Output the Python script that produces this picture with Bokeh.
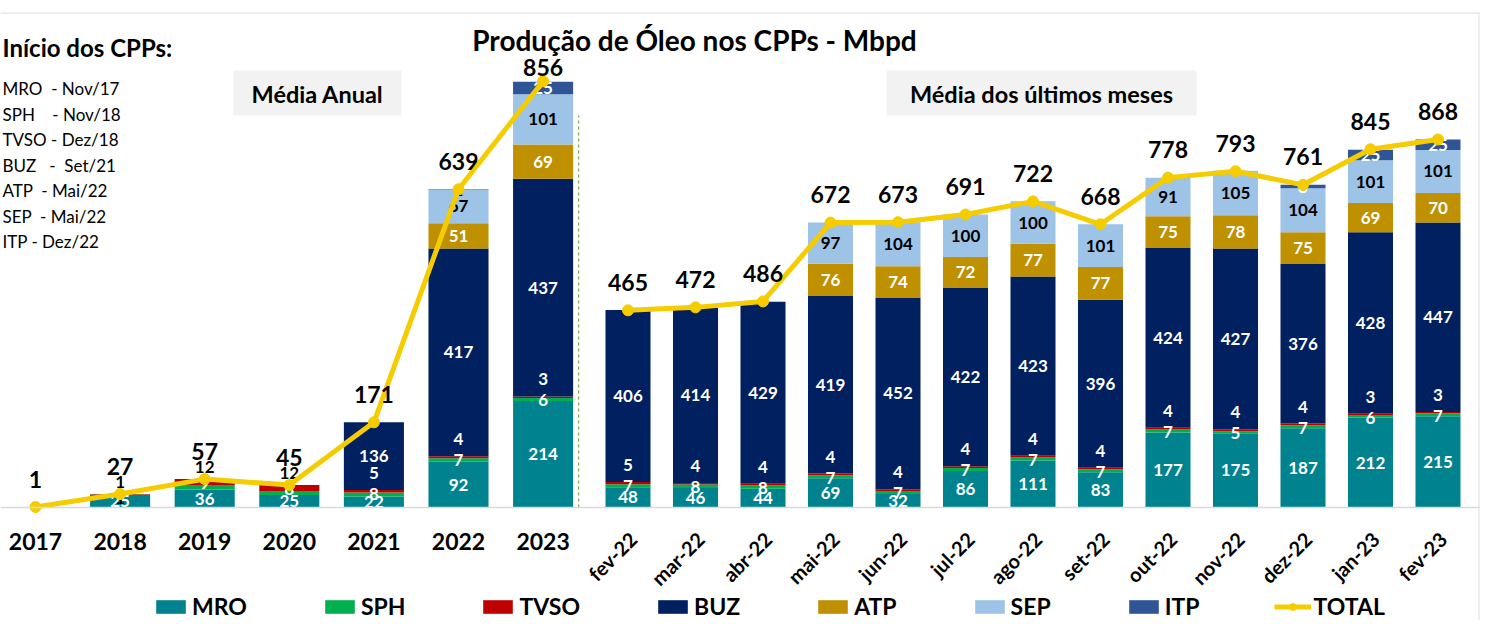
import math
from bokeh.plotting import figure
from bokeh.models import (Range1d, Label, BoxAnnotation, Legend, LegendItem,
                          ColumnDataSource, Span)
from bokeh.core.properties import value
from bokeh.embed import file_html
from bokeh.resources import INLINE

# ---------------- data ----------------
series = ["MRO", "SPH", "TVSO", "BUZ", "ATP", "SEP", "ITP"]

years = ["2017", "2018", "2019", "2020", "2021", "2022", "2023"]
yr_mro = [1, 25, 36, 25, 22, 92, 214]
yr_sph = [0, 1, 9, 8, 8, 7, 6]
yr_tvso = [0, 1, 12, 12, 5, 4, 3]
yr_buz = [0, 0, 0, 0, 136, 417, 437]
yr_atp = [0, 0, 0, 0, 0, 51, 69]
yr_sep = [0, 0, 0, 0, 0, 67, 101]
yr_itp = [0, 0, 0, 0, 0, 1, 25]
yr_total = [1, 27, 57, 45, 171, 639, 856]

months = ["fev-22", "mar-22", "abr-22", "mai-22", "jun-22", "jul-22", "ago-22",
          "set-22", "out-22", "nov-22", "dez-22", "jan-23", "fev-23"]
mo_mro = [48, 46, 44, 69, 32, 86, 111, 83, 177, 175, 187, 212, 215]
mo_sph = [7, 8, 8, 7, 7, 7, 7, 7, 7, 5, 7, 6, 7]
mo_tvso = [5, 4, 4, 4, 4, 4, 4, 4, 4, 4, 4, 3, 3]
mo_buz = [406, 414, 429, 419, 452, 422, 423, 396, 424, 427, 376, 428, 447]
mo_atp = [0, 0, 0, 76, 74, 72, 77, 77, 75, 78, 75, 69, 70]
mo_sep = [0, 0, 0, 97, 104, 100, 100, 101, 91, 105, 104, 101, 101]
mo_itp = [0, 0, 0, 0, 0, 0, 0, 0, 0, 0, 8, 25, 25]
mo_total = [465, 472, 486, 672, 673, 691, 722, 668, 778, 793, 761, 845, 868]

cpp_start = ["MRO  - Nov/17", "SPH    - Nov/18", "TVSO - Dez/18", "BUZ   -  Set/21",
             "ATP  - Mai/22", "SEP  - Mai/22", "ITP - Dez/22"]

title_text = "Produção de Óleo nos CPPs - Mbpd"

# ---------------- styles ----------------
colors = ["#00838F", "#00B050", "#C00000", "#002060", "#BF9000", "#9DC3E6", "#2F5597"]
YEL = "#F5CC00"
FONT = "Lato"

W, H = 1480, 620
BASE = 507               # px from top of canvas to the zero line
ux, xa_px = 84.6, 35     # annual: px per bar slot, first bar centre
um, xm_px = 67.5, 627.5  # monthly
ka, km = 0.498, 0.424    # px per Mbpd (annual / monthly)

p = figure(width=W, height=H, output_backend="svg", toolbar_location=None,
           x_axis_location=None, y_axis_location=None, min_border=0, title=None,
           x_range=Range1d(-xa_px / ux, (W - xa_px) / ux),
           y_range=Range1d(-(H - BASE) / ka, BASE / ka))
p.extra_x_ranges = {"m": Range1d(-xm_px / um, (W - xm_px) / um)}
p.extra_y_ranges = {"m": Range1d(-(H - BASE) / km, BASE / km)}
p.grid.visible = False
p.outline_line_color = None
p.background_fill_color = "white"
p.border_fill_color = "white"


def sbox(left, right, top, bottom, color):
    p.add_layout(BoxAnnotation(left=left, right=right, bottom=H - bottom, top=H - top,
                               left_units="screen", right_units="screen",
                               top_units="screen", bottom_units="screen",
                               fill_color=color, fill_alpha=1, line_color=None))


# slide frame lines
sbox(0, 1479, 12, 13.2, "#E4E4E4")
sbox(1477.8, 1479, 12, H, "#E4E4E4")

# zero line
p.add_layout(Span(location=0, dimension="width", line_color="#D9D9D9", line_width=1.5))

# separator between the two panels
sep_x = len(years) - 1 + 0.42
p.segment(x0=[sep_x], y0=[0], x1=[sep_x], y1=[787], line_color="#70AD47",
          line_width=1.2, line_dash="3 3")

yr_data = [yr_mro, yr_sph, yr_tvso, yr_buz, yr_atp, yr_sep, yr_itp]
mo_data = [mo_mro, mo_sph, mo_tvso, mo_buz, mo_atp, mo_sep, mo_itp]


def panel(cats, data, totals, width, rng, top_offsets, is_annual):
    kw = {} if rng is None else dict(x_range_name=rng, y_range_name=rng)
    xs = list(range(len(cats)))
    src = ColumnDataSource(dict(x=xs, **{n: v for n, v in zip(series, data)}))
    rends = p.vbar_stack(series, x="x", width=width, fill_color=colors,
                         line_color=None, source=src, **kw)
    # segment labels
    mro, sph, tvso, buz = data[0], data[1], data[2], data[3]
    lx, ly, lt, lc, lo = [], [], [], [], []
    for i in xs:
        bottom = 0
        base3 = mro[i] + sph[i] + tvso[i]
        for k, name in enumerate(series):
            v = data[k][i]
            if v == 0 or (name == "MRO" and v < 3):
                bottom += v
                continue
            if name == "SPH":
                y, off = base3, 4
                col = "white" if base3 > 30 else "black"
            elif name == "TVSO":
                y = base3
                off = -17 if buz[i] > 0 else -12
                col = "white" if buz[i] > 0 else "black"
            else:
                y, off = bottom + v / 2, 0
                if name == "SEP":
                    col = "black"
                elif name == "ITP":
                    col = "white" if v >= 5 else "black"
                else:
                    col = "white"
            lx.append(i); ly.append(y); lt.append(str(v)); lc.append(col); lo.append(off)
            bottom += v
    lsrc = ColumnDataSource(dict(x=lx, y=ly, t=lt, c=lc, o=lo))
    p.text(x="x", y="y", text="t", text_color="c", y_offset="o", source=lsrc,
           text_font=value(FONT), text_font_style="bold", text_font_size="17px",
           text_align="center", text_baseline="middle", **kw)
    # total line
    lr = p.line(xs, totals, line_color=YEL, line_width=5, **kw)
    sr = p.scatter(xs, totals, size=11, fill_color=YEL, line_color=YEL, **kw)
    # total labels
    p.text(x=xs, y=totals, text=[str(v) for v in totals], y_offset=top_offsets,
           text_font=value(FONT), text_font_style="bold", text_font_size="23px",
           text_color="black", text_align="center", text_baseline="middle", **kw)
    # category labels
    if is_annual:
        p.text(x=xs, y=[0] * len(xs), text=cats, y_offset=34,
               text_font=value(FONT), text_font_style="bold", text_font_size="23px",
               text_color="black", text_align="center", text_baseline="middle", **kw)
    else:
        p.text(x=xs, y=[0] * len(xs), text=cats, y_offset=28, x_offset=5,
               angle=math.pi / 4,
               text_font=value(FONT), text_font_style="bold", text_font_size="20px",
               text_color="black", text_align="right", text_baseline="middle", **kw)
    return rends, lr, sr


yr_offsets = [-14 if v == max(yr_total) else -28 for v in yr_total]
rends, lr, sr = panel(years, yr_data, yr_total, 0.71, None, yr_offsets, True)
panel(months, mo_data, mo_total, 0.667, "m", [-28] * len(months), False)


def label(x, y, text, size, bold=True, align="left"):
    p.add_layout(Label(x=x, y=H - y, x_units="screen", y_units="screen", text=text,
                       text_font=FONT, text_font_style="bold" if bold else "normal",
                       text_font_size=size, text_color="black",
                       text_align=align, text_baseline="middle"))


# panel header boxes
sbox(233, 401, 70, 115, "#F2F2F2")
label(317, 93, "Média Anual", "23.5px", align="center")
sbox(886, 1196, 70, 115, "#F2F2F2")
label(1041, 93, "Média dos últimos meses", "23.5px", align="center")

# title
label(694, 39, title_text, "28px", align="center")

# CPP start notes
label(2, 47, "Início dos CPPs:", "24px")
for j, s in enumerate(cpp_start):
    label(2, 88 + 25.5 * j, s.replace(" ", "\u00a0"), "17px", bold=False)

# legend
items = [LegendItem(label=n, renderers=[r]) for n, r in zip(series, rends)]
items.append(LegendItem(label="TOTAL", renderers=[lr, sr]))
legend = Legend(items=items, orientation="horizontal", location=(152, 0),
                glyph_width=37, glyph_height=17, label_standoff=3, spacing=74,
                padding=0, margin=0, border_line_color=None, background_fill_alpha=0,
                label_text_font=FONT, label_text_font_style="bold",
                label_text_font_size="23px", label_text_color="black")
p.add_layout(legend)

open("out.html", "w").write(file_html(p, INLINE))
